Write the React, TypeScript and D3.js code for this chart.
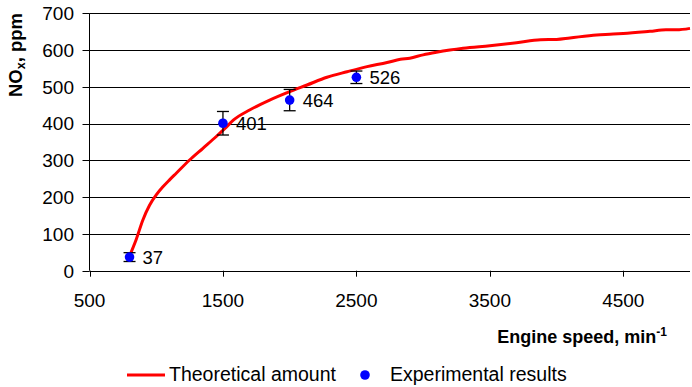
import React from "react";
import * as d3 from "d3";

// Theoretical NOx curve (engine speed, ppm)
const theoryRpm = [800, 850, 900, 950, 1000, 1050, 1100, 1150, 1250, 1350, 1450, 1515, 1580, 1700, 1850, 2000, 2130, 2280, 2430, 2580, 2730, 2830, 2900, 3000, 3100, 3200, 3300, 3500, 3700, 3880, 4000, 4100, 4300, 4400, 4500, 4700, 4820, 4900, 5000];
const theoryNox = [40, 85, 138, 178, 206, 228, 247, 265, 301, 333, 365, 387, 410, 437, 464, 487, 505, 526, 541, 555, 566, 575, 578, 587, 594, 600, 605, 612, 620, 628, 629, 633, 641, 643, 645, 651, 655, 655, 659];

// Measured points with error margins
const expRpm = [800, 1500, 2000, 2500];
const expNox = [37, 401, 464, 526];
const expErr = [12, 32, 29, 17];

const xTicks = [500, 1500, 2500, 3500, 4500];
const yTicks = [0, 100, 200, 300, 400, 500, 600, 700];

const W = 692;
const H = 387;
const left = 89.5;
const right = 690;
const top = 13.3;
const bottom = 270.7;
const font = "'Liberation Sans', Arial, sans-serif";

export default function App() {
  const x = d3.scaleLinear().domain([500, 5000]).range([left, right]);
  const y = d3.scaleLinear().domain([0, 700]).range([bottom, top]);
  const line = d3
    .line<number>()
    .x((_, i) => x(theoryRpm[i]))
    .y((d) => y(d))
    .curve(d3.curveMonotoneX);

  return (
    <svg
      width={W}
      height={H}
      style={{ position: "absolute", left: 0, top: 0, background: "#fff" }}
      fontFamily={font}
    >
      {/* gridlines */}
      {yTicks.slice(1).map((t) => (
        <line key={t} x1={left} x2={right} y1={Math.round(y(t)) + 0.5} y2={Math.round(y(t)) + 0.5} stroke="#000" strokeWidth={1} />
      ))}
      {/* y axis */}
      <line x1={left} x2={left} y1={y(700)} y2={bottom} stroke="#000" />
      {yTicks.map((t) => (
        <g key={t}>
          <line x1={left - 7} x2={left} y1={Math.round(y(t)) + 0.5} y2={Math.round(y(t)) + 0.5} stroke="#000" />
          <text x={74} y={y(t)} dy="0.36em" textAnchor="end" fontSize={19} fill="#000">
            {t}
          </text>
        </g>
      ))}
      {/* x axis */}
      <line x1={left} x2={right} y1={Math.round(bottom) + 0.5} y2={Math.round(bottom) + 0.5} stroke="#000" />
      {xTicks.map((t) => (
        <g key={t}>
          <line x1={Math.round(x(t)) + 0.5} x2={Math.round(x(t)) + 0.5} y1={bottom} y2={bottom + 6} stroke="#000" />
          <text x={x(t)} y={307} textAnchor="middle" fontSize={19} fill="#000">
            {t}
          </text>
        </g>
      ))}

      {/* theoretical curve */}
      <path d={line(theoryNox) || ""} fill="none" stroke="#ff0000" strokeWidth={3} strokeLinejoin="round" />

      {/* experimental points */}
      {expRpm.map((r, i) => {
        const cx = x(r);
        const cy = y(expNox[i]);
        const y1 = y(expNox[i] + expErr[i]);
        const y2 = y(expNox[i] - expErr[i]);
        return (
          <g key={r}>
            <line x1={cx} x2={cx} y1={y1} y2={y2} stroke="#000" strokeWidth={1.3} />
            <line x1={cx - 6} x2={cx + 6} y1={y1} y2={y1} stroke="#000" strokeWidth={1.3} />
            <line x1={cx - 6} x2={cx + 6} y1={y2} y2={y2} stroke="#000" strokeWidth={1.3} />
            <circle cx={cx} cy={cy} r={4.8} fill="#0000ff" />
            <text x={cx + 13} y={cy} dy="0.36em" fontSize={18.5} fill="#000">
              {expNox[i]}
            </text>
          </g>
        );
      })}

      {/* axis titles */}
      <text transform="translate(22,55) rotate(-90)" textAnchor="middle" fontSize={18.5} fontWeight="bold" fill="#000">
        NO<tspan fontSize={12.5} dy="3">x</tspan>
        <tspan dy="-3">, ppm</tspan>
      </text>
      <text x={667} y={343} textAnchor="end" fontSize={18} fontWeight="bold" fill="#000">
        Engine speed, min<tspan fontSize={12} dy="-7">-1</tspan>
      </text>

      {/* legend */}
      <line x1={127} x2={165} y1={375} y2={375} stroke="#ff0000" strokeWidth={3} />
      <text x={169} y={381} fontSize={19.5} fill="#000">
        Theoretical amount
      </text>
      <circle cx={365} cy={375} r={4.8} fill="#0000ff" />
      <text x={390} y={381} fontSize={19.5} fill="#000">
        Experimental results
      </text>
    </svg>
  );
}
